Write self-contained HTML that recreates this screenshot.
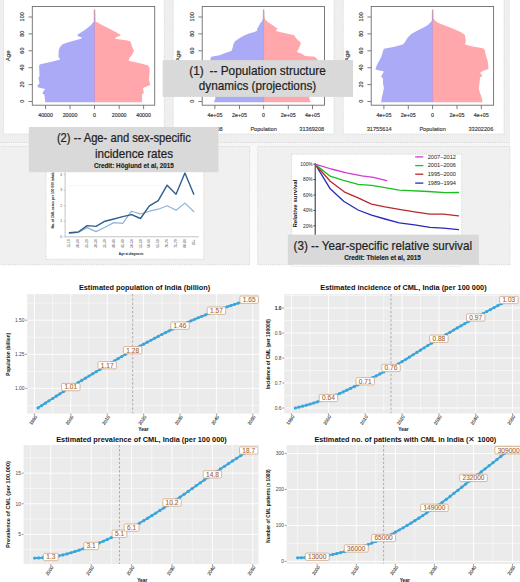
<!DOCTYPE html>
<html><head><meta charset="utf-8"><style>
html,body{margin:0;padding:0;background:#fff;}
svg{display:block;font-family:"Liberation Sans",sans-serif;}
</style></head><body>
<svg width="520" height="582" viewBox="0 0 520 582">
<rect x="0" y="0" width="520" height="582" fill="#ffffff" />
<rect x="0" y="0" width="510" height="142.6" fill="#efefef" />
<line x1="0" y1="142.6" x2="510" y2="142.6" stroke="#c4c4c4" stroke-width="0.8" stroke-dasharray="1 1.2"/>
<rect x="0" y="143" width="510" height="3.5" fill="#f6f6f6" />
<linearGradient id="gstrip" x1="0" y1="0" x2="0" y2="1"><stop offset="0" stop-color="#f8f8f8"/><stop offset="1" stop-color="#fefefe"/></linearGradient>
<rect x="249.6" y="146" width="8.1" height="119" fill="url(#gstrip)" />
<rect x="-1" y="146.5" width="250.6" height="118.3" fill="#f0f0f0" stroke="#cccccc" stroke-width="0.8" stroke-dasharray="1 1.2"/>
<rect x="257.7" y="146.5" width="252.3" height="118.3" fill="#f0f0f0" stroke="#cccccc" stroke-width="0.8" stroke-dasharray="1 1.2"/>
<rect x="3.5" y="-1" width="160.8" height="135" fill="#ffffff" stroke="#cccccc" stroke-width="0.8" stroke-dasharray="1 1.2"/>
<rect x="173.2" y="-1" width="160.8" height="135" fill="#ffffff" stroke="#cccccc" stroke-width="0.8" stroke-dasharray="1 1.2"/>
<rect x="343.2" y="-1" width="160.8" height="135" fill="#ffffff" stroke="#cccccc" stroke-width="0.8" stroke-dasharray="1 1.2"/>
<polygon points="94.5,102.3 45.1,102.2 44.8,97.4 44.2,94.6 42.3,93.6 43.2,91.8 45.1,88.9 38.5,87.4 37.2,86.1 39.5,83.2 38.5,78.5 39.5,75.7 39.1,65.3 40.4,64.3 52.7,61.5 60.3,59.6 58.4,56.8 58.8,50.1 60,47 62.7,44.3 67.3,42.5 74.6,40.6 81,38.8 81.9,37.5 77.4,36.1 77.9,34.3 81,32.4 86.5,28.8 91.1,25.1 93.8,21.5 94.3,19.5 94.5,19.5" fill="#aaaaf6" />
<polygon points="94.5,102.3 142,102.2 142,94.6 143.9,92.7 143,88 150.2,85.1 149,79.5 149.6,71.9 149.6,68.1 147.8,65.3 136.8,62.6 128.6,60.8 129.5,58 132.2,54.4 134,50.7 132.2,47 130.4,41.6 127.6,40.6 114.8,38.8 116.7,37 121.2,35.2 116.7,32.4 109.4,28.8 102,25.1 95.6,21.5 94.9,19.5 94.5,19.5" fill="#ffa7ab" />
<path d="M93.7,20.5 L93.8,9.6 L95.2,9.6 L95.5,20.5 Z" fill="#c99cb8"/>
<line x1="94.5" y1="19" x2="94.5" y2="102.3" stroke="#c08ed0" stroke-width="0.8" />
<rect x="32.3" y="6.5" width="122.4" height="98.7" fill="none" stroke="#6e6e6e" stroke-width="0.9"/>
<line x1="28.5" y1="101.5" x2="32.3" y2="101.5" stroke="#6e6e6e" stroke-width="0.9" />
<text x="22" y="101.3" font-size="5.5" fill="#333" text-anchor="middle" font-weight="normal" stroke="#333" stroke-width="0.15" transform="rotate(-90 22 101.3)" dy="2.0">0</text>
<line x1="28.5" y1="84.6" x2="32.3" y2="84.6" stroke="#6e6e6e" stroke-width="0.9" />
<text x="22" y="84.4" font-size="5.5" fill="#333" text-anchor="middle" font-weight="normal" stroke="#333" stroke-width="0.15" transform="rotate(-90 22 84.4)" dy="2.0">20</text>
<line x1="28.5" y1="67.7" x2="32.3" y2="67.7" stroke="#6e6e6e" stroke-width="0.9" />
<text x="22" y="67.5" font-size="5.5" fill="#333" text-anchor="middle" font-weight="normal" stroke="#333" stroke-width="0.15" transform="rotate(-90 22 67.5)" dy="2.0">40</text>
<line x1="28.5" y1="50.8" x2="32.3" y2="50.8" stroke="#6e6e6e" stroke-width="0.9" />
<text x="22" y="50.6" font-size="5.5" fill="#333" text-anchor="middle" font-weight="normal" stroke="#333" stroke-width="0.15" transform="rotate(-90 22 50.6)" dy="2.0">60</text>
<line x1="28.5" y1="33.9" x2="32.3" y2="33.9" stroke="#6e6e6e" stroke-width="0.9" />
<text x="22" y="33.7" font-size="5.5" fill="#333" text-anchor="middle" font-weight="normal" stroke="#333" stroke-width="0.15" transform="rotate(-90 22 33.7)" dy="2.0">80</text>
<line x1="28.5" y1="17" x2="32.3" y2="17" stroke="#6e6e6e" stroke-width="0.9" />
<text x="22" y="16.8" font-size="5.5" fill="#333" text-anchor="middle" font-weight="normal" stroke="#333" stroke-width="0.15" transform="rotate(-90 22 16.8)" dy="2.0">100</text>
<text x="8.3" y="55.8" font-size="6" fill="#333" text-anchor="middle" font-weight="normal" stroke="#333" stroke-width="0.15" transform="rotate(-90 8.3 55.8)" dy="2.1">Age</text>
<line x1="45.6" y1="105.2" x2="45.6" y2="109.2" stroke="#6e6e6e" stroke-width="0.9" />
<text x="45.6" y="117.3" font-size="5.3" fill="#333" text-anchor="middle" font-weight="normal" stroke="#333" stroke-width="0.15" >40000</text>
<line x1="70" y1="105.2" x2="70" y2="109.2" stroke="#6e6e6e" stroke-width="0.9" />
<text x="70" y="117.3" font-size="5.3" fill="#333" text-anchor="middle" font-weight="normal" stroke="#333" stroke-width="0.15" >20000</text>
<line x1="94.5" y1="105.2" x2="94.5" y2="109.2" stroke="#6e6e6e" stroke-width="0.9" />
<text x="94.5" y="117.3" font-size="5.3" fill="#333" text-anchor="middle" font-weight="normal" stroke="#333" stroke-width="0.15" >0</text>
<line x1="119.2" y1="105.2" x2="119.2" y2="109.2" stroke="#6e6e6e" stroke-width="0.9" />
<text x="119.2" y="117.3" font-size="5.3" fill="#333" text-anchor="middle" font-weight="normal" stroke="#333" stroke-width="0.15" >20000</text>
<line x1="143.6" y1="105.2" x2="143.6" y2="109.2" stroke="#6e6e6e" stroke-width="0.9" />
<text x="143.6" y="117.3" font-size="5.3" fill="#333" text-anchor="middle" font-weight="normal" stroke="#333" stroke-width="0.15" >40000</text>
<text x="40.3" y="130.6" font-size="5.6" fill="#333" text-anchor="middle" font-weight="normal" stroke="#333" stroke-width="0.12" >3120071</text>
<text x="94.5" y="130.6" font-size="5.6" fill="#333" text-anchor="middle" font-weight="normal" stroke="#333" stroke-width="0.12" >Population</text>
<text x="154.4" y="130.6" font-size="5.6" fill="#333" text-anchor="end" font-weight="normal" stroke="#333" stroke-width="0.12" >2990114</text>
<polygon points="263.6,102.3 213.9,102.2 215.4,98.4 214.5,90 213,80 211.5,70 210.5,62 210.1,60.2 211.1,56.8 219.6,55.2 225.3,53 231.3,51.1 232.5,48.2 233.5,44 235,41.3 239,38.6 243.1,36 247.1,34.3 249.8,33.3 254.5,31.9 257.2,30.6 257.2,28.6 258.6,26.5 259.9,23.8 261.9,21.2 263.3,18.5 263.6,19.5" fill="#aaaaf6" />
<polygon points="263.6,102.3 311,102.2 309.1,98.4 311,90 313,80 315.5,70 317.6,62 317.6,59.6 314.8,56.8 305,56.1 302.3,54.1 296.9,52.1 297.6,50.8 299.6,46.7 300.9,42.7 296.2,38.6 294.2,35.3 288.8,33.9 282.1,32.6 276.7,31.2 276,29.9 277.8,28.6 275.4,27.2 272.7,25.2 268.6,22.5 265.3,19.8 264.1,17.5 263.6,19.5" fill="#ffa7ab" />
<path d="M262.8,20.5 L262.9,9.6 L264.3,9.6 L264.6,20.5 Z" fill="#c99cb8"/>
<line x1="263.6" y1="19" x2="263.6" y2="102.3" stroke="#c08ed0" stroke-width="0.8" />
<rect x="202.2" y="6.5" width="122.3" height="98.7" fill="none" stroke="#6e6e6e" stroke-width="0.9"/>
<line x1="198.4" y1="101.5" x2="202.2" y2="101.5" stroke="#6e6e6e" stroke-width="0.9" />
<text x="191.9" y="101.3" font-size="5.5" fill="#333" text-anchor="middle" font-weight="normal" stroke="#333" stroke-width="0.15" transform="rotate(-90 191.9 101.3)" dy="2.0">0</text>
<line x1="198.4" y1="84.6" x2="202.2" y2="84.6" stroke="#6e6e6e" stroke-width="0.9" />
<text x="191.9" y="84.4" font-size="5.5" fill="#333" text-anchor="middle" font-weight="normal" stroke="#333" stroke-width="0.15" transform="rotate(-90 191.9 84.4)" dy="2.0">20</text>
<line x1="198.4" y1="67.7" x2="202.2" y2="67.7" stroke="#6e6e6e" stroke-width="0.9" />
<text x="191.9" y="67.5" font-size="5.5" fill="#333" text-anchor="middle" font-weight="normal" stroke="#333" stroke-width="0.15" transform="rotate(-90 191.9 67.5)" dy="2.0">40</text>
<line x1="198.4" y1="50.8" x2="202.2" y2="50.8" stroke="#6e6e6e" stroke-width="0.9" />
<text x="191.9" y="50.6" font-size="5.5" fill="#333" text-anchor="middle" font-weight="normal" stroke="#333" stroke-width="0.15" transform="rotate(-90 191.9 50.6)" dy="2.0">60</text>
<line x1="198.4" y1="33.9" x2="202.2" y2="33.9" stroke="#6e6e6e" stroke-width="0.9" />
<text x="191.9" y="33.7" font-size="5.5" fill="#333" text-anchor="middle" font-weight="normal" stroke="#333" stroke-width="0.15" transform="rotate(-90 191.9 33.7)" dy="2.0">80</text>
<line x1="198.4" y1="17" x2="202.2" y2="17" stroke="#6e6e6e" stroke-width="0.9" />
<text x="191.9" y="16.8" font-size="5.5" fill="#333" text-anchor="middle" font-weight="normal" stroke="#333" stroke-width="0.15" transform="rotate(-90 191.9 16.8)" dy="2.0">100</text>
<text x="178.2" y="55.8" font-size="6" fill="#333" text-anchor="middle" font-weight="normal" stroke="#333" stroke-width="0.15" transform="rotate(-90 178.2 55.8)" dy="2.1">Age</text>
<line x1="214.9" y1="105.2" x2="214.9" y2="109.2" stroke="#6e6e6e" stroke-width="0.9" />
<text x="214.9" y="117.3" font-size="5.3" fill="#333" text-anchor="middle" font-weight="normal" stroke="#333" stroke-width="0.15" >4e+05</text>
<line x1="239.5" y1="105.2" x2="239.5" y2="109.2" stroke="#6e6e6e" stroke-width="0.9" />
<text x="239.5" y="117.3" font-size="5.3" fill="#333" text-anchor="middle" font-weight="normal" stroke="#333" stroke-width="0.15" >2e+05</text>
<line x1="263.6" y1="105.2" x2="263.6" y2="109.2" stroke="#6e6e6e" stroke-width="0.9" />
<text x="263.6" y="117.3" font-size="5.3" fill="#333" text-anchor="middle" font-weight="normal" stroke="#333" stroke-width="0.15" >0</text>
<line x1="288.3" y1="105.2" x2="288.3" y2="109.2" stroke="#6e6e6e" stroke-width="0.9" />
<text x="288.3" y="117.3" font-size="5.3" fill="#333" text-anchor="middle" font-weight="normal" stroke="#333" stroke-width="0.15" >2e+05</text>
<line x1="312.5" y1="105.2" x2="312.5" y2="109.2" stroke="#6e6e6e" stroke-width="0.9" />
<text x="312.5" y="117.3" font-size="5.3" fill="#333" text-anchor="middle" font-weight="normal" stroke="#333" stroke-width="0.15" >4e+05</text>
<text x="210.2" y="130.6" font-size="5.6" fill="#333" text-anchor="middle" font-weight="normal" stroke="#333" stroke-width="0.12" >30440608</text>
<text x="263.6" y="130.6" font-size="5.6" fill="#333" text-anchor="middle" font-weight="normal" stroke="#333" stroke-width="0.12" >Population</text>
<text x="324.2" y="130.6" font-size="5.6" fill="#333" text-anchor="end" font-weight="normal" stroke="#333" stroke-width="0.12" >31369208</text>
<polygon points="432.6,102.3 381.1,102.2 382,96.5 383,92.7 383.9,88 383,83.2 383,78.5 381.1,76.6 382,74.7 383.9,71.5 375.4,69.6 376.4,66.2 378.2,62.4 380.5,58.6 382,54.9 383,51.1 383.9,48.8 393.4,46.9 402.8,44.5 404.7,42.6 407.6,37.8 411.3,34.1 418,30.3 422.7,28 428,25 431.5,21.2 432.2,19.5 432.6,19.5" fill="#aaaaf6" />
<polygon points="432.6,102.3 482.5,102.2 481.9,98.4 480,92.7 478.7,88.9 479.5,83.2 480,77.6 482.5,75.7 480,72.8 482.9,70.9 488.5,69.1 488.2,65.3 487.6,60.5 485.7,54.9 484.8,50.1 482.9,48.2 471.5,46.3 464.9,44.5 465.8,41.6 464.9,35 461.1,32.2 455,29.6 449.6,27.3 443.5,25 438,22.7 435,20.4 433.6,18.8 432.6,19.5" fill="#ffa7ab" />
<path d="M431.8,20.5 L431.9,9.6 L433.3,9.6 L433.6,20.5 Z" fill="#c99cb8"/>
<line x1="432.6" y1="19" x2="432.6" y2="102.3" stroke="#c08ed0" stroke-width="0.8" />
<rect x="371.2" y="6.5" width="122.4" height="98.7" fill="none" stroke="#6e6e6e" stroke-width="0.9"/>
<line x1="367.4" y1="101.5" x2="371.2" y2="101.5" stroke="#6e6e6e" stroke-width="0.9" />
<text x="360.9" y="101.3" font-size="5.5" fill="#333" text-anchor="middle" font-weight="normal" stroke="#333" stroke-width="0.15" transform="rotate(-90 360.9 101.3)" dy="2.0">0</text>
<line x1="367.4" y1="84.6" x2="371.2" y2="84.6" stroke="#6e6e6e" stroke-width="0.9" />
<text x="360.9" y="84.4" font-size="5.5" fill="#333" text-anchor="middle" font-weight="normal" stroke="#333" stroke-width="0.15" transform="rotate(-90 360.9 84.4)" dy="2.0">20</text>
<line x1="367.4" y1="67.7" x2="371.2" y2="67.7" stroke="#6e6e6e" stroke-width="0.9" />
<text x="360.9" y="67.5" font-size="5.5" fill="#333" text-anchor="middle" font-weight="normal" stroke="#333" stroke-width="0.15" transform="rotate(-90 360.9 67.5)" dy="2.0">40</text>
<line x1="367.4" y1="50.8" x2="371.2" y2="50.8" stroke="#6e6e6e" stroke-width="0.9" />
<text x="360.9" y="50.6" font-size="5.5" fill="#333" text-anchor="middle" font-weight="normal" stroke="#333" stroke-width="0.15" transform="rotate(-90 360.9 50.6)" dy="2.0">60</text>
<line x1="367.4" y1="33.9" x2="371.2" y2="33.9" stroke="#6e6e6e" stroke-width="0.9" />
<text x="360.9" y="33.7" font-size="5.5" fill="#333" text-anchor="middle" font-weight="normal" stroke="#333" stroke-width="0.15" transform="rotate(-90 360.9 33.7)" dy="2.0">80</text>
<line x1="367.4" y1="17" x2="371.2" y2="17" stroke="#6e6e6e" stroke-width="0.9" />
<text x="360.9" y="16.8" font-size="5.5" fill="#333" text-anchor="middle" font-weight="normal" stroke="#333" stroke-width="0.15" transform="rotate(-90 360.9 16.8)" dy="2.0">100</text>
<text x="347.2" y="55.8" font-size="6" fill="#333" text-anchor="middle" font-weight="normal" stroke="#333" stroke-width="0.15" transform="rotate(-90 347.2 55.8)" dy="2.1">Age</text>
<line x1="383.9" y1="105.2" x2="383.9" y2="109.2" stroke="#6e6e6e" stroke-width="0.9" />
<text x="383.9" y="117.3" font-size="5.3" fill="#333" text-anchor="middle" font-weight="normal" stroke="#333" stroke-width="0.15" >4e+05</text>
<line x1="408.3" y1="105.2" x2="408.3" y2="109.2" stroke="#6e6e6e" stroke-width="0.9" />
<text x="408.3" y="117.3" font-size="5.3" fill="#333" text-anchor="middle" font-weight="normal" stroke="#333" stroke-width="0.15" >2e+05</text>
<line x1="432.6" y1="105.2" x2="432.6" y2="109.2" stroke="#6e6e6e" stroke-width="0.9" />
<text x="432.6" y="117.3" font-size="5.3" fill="#333" text-anchor="middle" font-weight="normal" stroke="#333" stroke-width="0.15" >0</text>
<line x1="457" y1="105.2" x2="457" y2="109.2" stroke="#6e6e6e" stroke-width="0.9" />
<text x="457" y="117.3" font-size="5.3" fill="#333" text-anchor="middle" font-weight="normal" stroke="#333" stroke-width="0.15" >2e+05</text>
<line x1="481.3" y1="105.2" x2="481.3" y2="109.2" stroke="#6e6e6e" stroke-width="0.9" />
<text x="481.3" y="117.3" font-size="5.3" fill="#333" text-anchor="middle" font-weight="normal" stroke="#333" stroke-width="0.15" >4e+05</text>
<text x="379.2" y="130.6" font-size="5.6" fill="#333" text-anchor="middle" font-weight="normal" stroke="#333" stroke-width="0.12" >31755614</text>
<text x="432.6" y="130.6" font-size="5.6" fill="#333" text-anchor="middle" font-weight="normal" stroke="#333" stroke-width="0.12" >Population</text>
<text x="493.3" y="130.6" font-size="5.6" fill="#333" text-anchor="end" font-weight="normal" stroke="#333" stroke-width="0.12" >33202206</text>
<rect x="46.1" y="150" width="157.7" height="109.2" fill="#ffffff" stroke="#cccccc" stroke-width="0.8" stroke-dasharray="1 1.2"/>
<line x1="65.1" y1="172" x2="65.1" y2="236.8" stroke="#9a9a9a" stroke-width="0.6" />
<line x1="65.1" y1="236.8" x2="198.7" y2="236.8" stroke="#9a9a9a" stroke-width="0.6" />
<line x1="65.1" y1="185.49" x2="198.7" y2="185.49" stroke="#f0f0f0" stroke-width="0.5" />
<line x1="63.6" y1="236.8" x2="65.1" y2="236.8" stroke="#9a9a9a" stroke-width="0.5" />
<text x="62.1" y="238" font-size="3.4" fill="#555" text-anchor="end" font-weight="normal" >0</text>
<line x1="63.6" y1="221.25" x2="65.1" y2="221.25" stroke="#9a9a9a" stroke-width="0.5" />
<text x="62.1" y="222.45" font-size="3.4" fill="#555" text-anchor="end" font-weight="normal" >1</text>
<line x1="63.6" y1="205.7" x2="65.1" y2="205.7" stroke="#9a9a9a" stroke-width="0.5" />
<text x="62.1" y="206.9" font-size="3.4" fill="#555" text-anchor="end" font-weight="normal" >2</text>
<line x1="63.6" y1="190.15" x2="65.1" y2="190.15" stroke="#9a9a9a" stroke-width="0.5" />
<text x="62.1" y="191.35" font-size="3.4" fill="#555" text-anchor="end" font-weight="normal" >3</text>
<line x1="63.6" y1="174.6" x2="65.1" y2="174.6" stroke="#9a9a9a" stroke-width="0.5" />
<text x="62.1" y="175.8" font-size="3.4" fill="#555" text-anchor="end" font-weight="normal" >4</text>
<text x="70.5" y="239.3" font-size="3.3" fill="#555" text-anchor="end" font-weight="normal" transform="rotate(-90 70.5 239.3)">15-19</text>
<text x="79.39" y="239.3" font-size="3.3" fill="#555" text-anchor="end" font-weight="normal" transform="rotate(-90 79.39 239.3)">20-24</text>
<text x="88.27" y="239.3" font-size="3.3" fill="#555" text-anchor="end" font-weight="normal" transform="rotate(-90 88.27 239.3)">25-29</text>
<text x="97.16" y="239.3" font-size="3.3" fill="#555" text-anchor="end" font-weight="normal" transform="rotate(-90 97.16 239.3)">30-34</text>
<text x="106.04" y="239.3" font-size="3.3" fill="#555" text-anchor="end" font-weight="normal" transform="rotate(-90 106.04 239.3)">35-39</text>
<text x="114.92" y="239.3" font-size="3.3" fill="#555" text-anchor="end" font-weight="normal" transform="rotate(-90 114.92 239.3)">40-44</text>
<text x="123.81" y="239.3" font-size="3.3" fill="#555" text-anchor="end" font-weight="normal" transform="rotate(-90 123.81 239.3)">45-49</text>
<text x="132.69" y="239.3" font-size="3.3" fill="#555" text-anchor="end" font-weight="normal" transform="rotate(-90 132.69 239.3)">50-54</text>
<text x="141.58" y="239.3" font-size="3.3" fill="#555" text-anchor="end" font-weight="normal" transform="rotate(-90 141.58 239.3)">55-59</text>
<text x="150.47" y="239.3" font-size="3.3" fill="#555" text-anchor="end" font-weight="normal" transform="rotate(-90 150.47 239.3)">60-64</text>
<text x="159.35" y="239.3" font-size="3.3" fill="#555" text-anchor="end" font-weight="normal" transform="rotate(-90 159.35 239.3)">65-69</text>
<text x="168.23" y="239.3" font-size="3.3" fill="#555" text-anchor="end" font-weight="normal" transform="rotate(-90 168.23 239.3)">70-74</text>
<text x="177.12" y="239.3" font-size="3.3" fill="#555" text-anchor="end" font-weight="normal" transform="rotate(-90 177.12 239.3)">75-79</text>
<text x="186" y="239.3" font-size="3.3" fill="#555" text-anchor="end" font-weight="normal" transform="rotate(-90 186 239.3)">80-84</text>
<text x="194.89" y="239.3" font-size="3.3" fill="#555" text-anchor="end" font-weight="normal" transform="rotate(-90 194.89 239.3)">85+</text>
<text x="118.8" y="255" font-size="3.6" fill="#222" text-anchor="start" font-weight="bold" textLength="24.7" lengthAdjust="spacingAndGlyphs" >Age at diagnosis</text>
<text x="54.2" y="200" font-size="3.3" fill="#222" text-anchor="middle" font-weight="bold" transform="rotate(-90 54.2 200)">No. of CML cases per 100 000 inhab.</text>
<polyline points="69.4,233.3 78.29,232.5 87.17,227.6 96.06,231.6 104.94,227.3 113.83,222.6 122.71,223.3 131.59,211.2 140.48,214 149.37,211.2 158.25,209.2 167.13,205.8 176.02,210.2 184.91,203.1 193.79,211.5" fill="none" stroke="#8db3d8" stroke-width="1.2" stroke-linejoin="round" stroke-linecap="round" />
<polyline points="69.4,232.8 78.29,232 87.17,225.6 96.06,226.4 104.94,221.2 113.83,219 122.71,216.6 131.59,214.6 140.48,218.5 149.37,205.8 158.25,200.6 167.13,185.2 176.02,194.2 184.91,173.1 193.79,194.2" fill="none" stroke="#2e5f8e" stroke-width="1.4" stroke-linejoin="round" stroke-linecap="round" />
<rect x="291.7" y="154.2" width="170" height="112" fill="#ffffff" stroke="#cccccc" stroke-width="0.8" stroke-dasharray="1 1.2"/>
<line x1="315.2" y1="163.5" x2="315.2" y2="240" stroke="#111" stroke-width="0.9" />
<line x1="313.4" y1="225.8" x2="315.2" y2="225.8" stroke="#111" stroke-width="0.7" />
<text x="312.6" y="227.5" font-size="4.8" fill="#222" text-anchor="end" font-weight="normal" >20%</text>
<line x1="313.4" y1="210.4" x2="315.2" y2="210.4" stroke="#111" stroke-width="0.7" />
<text x="312.6" y="212.1" font-size="4.8" fill="#222" text-anchor="end" font-weight="normal" >40%</text>
<line x1="313.4" y1="195" x2="315.2" y2="195" stroke="#111" stroke-width="0.7" />
<text x="312.6" y="196.7" font-size="4.8" fill="#222" text-anchor="end" font-weight="normal" >60%</text>
<line x1="313.4" y1="179.6" x2="315.2" y2="179.6" stroke="#111" stroke-width="0.7" />
<text x="312.6" y="181.3" font-size="4.8" fill="#222" text-anchor="end" font-weight="normal" >80%</text>
<line x1="313.4" y1="164.2" x2="315.2" y2="164.2" stroke="#111" stroke-width="0.7" />
<text x="312.6" y="165.9" font-size="4.8" fill="#222" text-anchor="end" font-weight="normal" >100%</text>
<text x="297" y="203.6" font-size="6" fill="#111" text-anchor="middle" font-weight="bold" textLength="48" lengthAdjust="spacingAndGlyphs" transform="rotate(-90 297.0 203.6)">Relative survival</text>
<polyline points="315.2,164.2 330.2,188.8 343.7,201.2 358.1,210 371.5,215.2 385,219 399.2,222.9 414.6,224.8 430,227.3 443.5,228.1 458.5,229.6" fill="none" stroke="#2a2ab8" stroke-width="1.3" stroke-linejoin="round" stroke-linecap="round" />
<polyline points="315.2,164.2 330.2,181.2 344.6,192.1 358.1,197.9 371.5,204.2 385,206.9 399.2,209.4 414.6,211.9 430,214.2 443.5,214.2 458.5,215.8" fill="none" stroke="#b8292e" stroke-width="1.3" stroke-linejoin="round" stroke-linecap="round" />
<polyline points="315.2,164.2 330.2,176.2 342.7,180.2 358.1,184.4 371.5,185.4 385,187.7 399.2,190.2 428,191.5 445.4,192.7 458.5,192.5" fill="none" stroke="#19c01f" stroke-width="1.3" stroke-linejoin="round" stroke-linecap="round" />
<polyline points="315.2,164.2 331.2,169 346.5,172.9 361.9,175.8 373.5,177.3 386.7,180.6" fill="none" stroke="#d23ad2" stroke-width="1.3" stroke-linejoin="round" stroke-linecap="round" />
<line x1="415.2" y1="156.9" x2="423.3" y2="156.9" stroke="#d23ad2" stroke-width="1.3" />
<text x="427.7" y="158.7" font-size="5.2" fill="#222" text-anchor="start" font-weight="normal" textLength="28.3" lengthAdjust="spacingAndGlyphs" >2007–2012</text>
<line x1="415.2" y1="165.6" x2="423.3" y2="165.6" stroke="#19c01f" stroke-width="1.3" />
<text x="427.7" y="167.4" font-size="5.2" fill="#222" text-anchor="start" font-weight="normal" textLength="28.3" lengthAdjust="spacingAndGlyphs" >2001–2006</text>
<line x1="415.2" y1="174.2" x2="423.3" y2="174.2" stroke="#b8292e" stroke-width="1.3" />
<text x="427.7" y="176" font-size="5.2" fill="#222" text-anchor="start" font-weight="normal" textLength="28.3" lengthAdjust="spacingAndGlyphs" >1995–2000</text>
<line x1="415.2" y1="183.1" x2="423.3" y2="183.1" stroke="#2a2ab8" stroke-width="1.3" />
<text x="427.7" y="184.9" font-size="5.2" fill="#222" text-anchor="start" font-weight="normal" textLength="28.3" lengthAdjust="spacingAndGlyphs" >1989–1994</text>
<rect x="162.7" y="60.1" width="190.3" height="36.8" fill="#d9d9d9" />
<text x="189.3" y="75.1" font-size="12.2" fill="#1e1e1e" text-anchor="start" font-weight="normal" textLength="136.4" lengthAdjust="spacingAndGlyphs" stroke="#1e1e1e" stroke-width="0.22" >(1)&#8194;-- Population structure</text>
<text x="198.8" y="90.1" font-size="12.2" fill="#1e1e1e" text-anchor="start" font-weight="normal" textLength="117.4" lengthAdjust="spacingAndGlyphs" stroke="#1e1e1e" stroke-width="0.22" >dynamics (projections)</text>
<rect x="28.9" y="127" width="189.6" height="45.2" fill="#d9d9d9" />
<text x="56.9" y="142.3" font-size="12.2" fill="#1e1e1e" text-anchor="start" font-weight="normal" textLength="133.9" lengthAdjust="spacingAndGlyphs" stroke="#1e1e1e" stroke-width="0.22" >(2) -- Age- and sex-specific</text>
<text x="94.9" y="157.8" font-size="12.2" fill="#1e1e1e" text-anchor="start" font-weight="normal" textLength="78.2" lengthAdjust="spacingAndGlyphs" stroke="#1e1e1e" stroke-width="0.22" >incidence rates</text>
<text x="93.9" y="168" font-size="6.9" fill="#1e1e1e" text-anchor="start" font-weight="bold" textLength="79.9" lengthAdjust="spacingAndGlyphs" stroke="#1e1e1e" stroke-width="0.15" >Credit: Höglund et al, 2015</text>
<rect x="287.8" y="234.6" width="191" height="30.2" fill="#d9d9d9" />
<text x="293.5" y="250.4" font-size="13.4" fill="#1e1e1e" text-anchor="start" font-weight="normal" textLength="178.5" lengthAdjust="spacingAndGlyphs" stroke="#1e1e1e" stroke-width="0.22" >(3) -- Year-specific relative survival</text>
<text x="344.2" y="259.5" font-size="6.9" fill="#1e1e1e" text-anchor="start" font-weight="bold" textLength="76.6" lengthAdjust="spacingAndGlyphs" stroke="#1e1e1e" stroke-width="0.15" >Credit: Thielen et al, 2015</text>
<clipPath id="cA"><rect x="27.2" y="294.1" width="232" height="119.5"/></clipPath>
<rect x="27.2" y="294.1" width="232" height="119.5" fill="#ebebeb" />
<g clip-path="url(#cA)">
<line x1="52.6" y1="294.1" x2="52.6" y2="413.6" stroke="#fbfbfb" stroke-width="0.6" />
<line x1="89" y1="294.1" x2="89" y2="413.6" stroke="#fbfbfb" stroke-width="0.6" />
<line x1="125.4" y1="294.1" x2="125.4" y2="413.6" stroke="#fbfbfb" stroke-width="0.6" />
<line x1="161.8" y1="294.1" x2="161.8" y2="413.6" stroke="#fbfbfb" stroke-width="0.6" />
<line x1="198.2" y1="294.1" x2="198.2" y2="413.6" stroke="#fbfbfb" stroke-width="0.6" />
<line x1="234.6" y1="294.1" x2="234.6" y2="413.6" stroke="#fbfbfb" stroke-width="0.6" />
<line x1="27.2" y1="405.45" x2="259.2" y2="405.45" stroke="#fbfbfb" stroke-width="0.6" />
<line x1="27.2" y1="371.35" x2="259.2" y2="371.35" stroke="#fbfbfb" stroke-width="0.6" />
<line x1="27.2" y1="337.25" x2="259.2" y2="337.25" stroke="#fbfbfb" stroke-width="0.6" />
<line x1="27.2" y1="303.15" x2="259.2" y2="303.15" stroke="#fbfbfb" stroke-width="0.6" />
<line x1="34.4" y1="294.1" x2="34.4" y2="413.6" stroke="#ffffff" stroke-width="0.9" />
<line x1="70.8" y1="294.1" x2="70.8" y2="413.6" stroke="#ffffff" stroke-width="0.9" />
<line x1="107.2" y1="294.1" x2="107.2" y2="413.6" stroke="#ffffff" stroke-width="0.9" />
<line x1="143.6" y1="294.1" x2="143.6" y2="413.6" stroke="#ffffff" stroke-width="0.9" />
<line x1="180" y1="294.1" x2="180" y2="413.6" stroke="#ffffff" stroke-width="0.9" />
<line x1="216.4" y1="294.1" x2="216.4" y2="413.6" stroke="#ffffff" stroke-width="0.9" />
<line x1="252.8" y1="294.1" x2="252.8" y2="413.6" stroke="#ffffff" stroke-width="0.9" />
<line x1="27.2" y1="388.4" x2="259.2" y2="388.4" stroke="#ffffff" stroke-width="0.9" />
<line x1="27.2" y1="354.3" x2="259.2" y2="354.3" stroke="#ffffff" stroke-width="0.9" />
<line x1="27.2" y1="320.2" x2="259.2" y2="320.2" stroke="#ffffff" stroke-width="0.9" />
<line x1="132.68" y1="294.1" x2="132.68" y2="413.6" stroke="#858585" stroke-width="0.65" stroke-dasharray="2.3 1.9"/>
<polyline points="38.04,407.91 41.68,405.53 45.32,403.17 48.96,400.82 52.6,398.48 56.24,396.16 59.88,393.86 63.52,391.57 67.16,389.29 70.8,387.04 74.44,384.8 78.08,382.58 81.72,380.38 85.36,378.19 89,376.01 92.64,373.85 96.28,371.69 99.92,369.53 103.56,367.37 107.2,365.21 110.84,363.04 114.48,360.86 118.12,358.67 121.76,356.5 125.4,354.36 129.04,352.26 132.68,350.21 136.32,348.19 139.96,346.18 143.6,344.19 147.24,342.21 150.88,340.25 154.52,338.31 158.16,336.4 161.8,334.52 165.44,332.67 169.08,330.85 172.72,329.08 176.36,327.34 180,325.66 183.64,324.01 187.28,322.39 190.92,320.81 194.56,319.26 198.2,317.75 201.84,316.26 205.48,314.81 209.12,313.39 212.76,312.01 216.4,310.65 220.04,309.33 223.68,308.03 227.32,306.76 230.96,305.51 234.6,304.3 238.24,303.11 241.88,301.96 245.52,300.83 249.16,299.74" fill="none" stroke="#3aa5db" stroke-width="1.9" stroke-linejoin="round" stroke-linecap="round" />
<circle cx="38.04" cy="407.91" r="1.6" fill="#3aa5db"/>
<circle cx="41.68" cy="405.53" r="1.6" fill="#3aa5db"/>
<circle cx="45.32" cy="403.17" r="1.6" fill="#3aa5db"/>
<circle cx="48.96" cy="400.82" r="1.6" fill="#3aa5db"/>
<circle cx="52.6" cy="398.48" r="1.6" fill="#3aa5db"/>
<circle cx="56.24" cy="396.16" r="1.6" fill="#3aa5db"/>
<circle cx="59.88" cy="393.86" r="1.6" fill="#3aa5db"/>
<circle cx="63.52" cy="391.57" r="1.6" fill="#3aa5db"/>
<circle cx="67.16" cy="389.29" r="1.6" fill="#3aa5db"/>
<circle cx="70.8" cy="387.04" r="1.6" fill="#3aa5db"/>
<circle cx="74.44" cy="384.8" r="1.6" fill="#3aa5db"/>
<circle cx="78.08" cy="382.58" r="1.6" fill="#3aa5db"/>
<circle cx="81.72" cy="380.38" r="1.6" fill="#3aa5db"/>
<circle cx="85.36" cy="378.19" r="1.6" fill="#3aa5db"/>
<circle cx="89" cy="376.01" r="1.6" fill="#3aa5db"/>
<circle cx="92.64" cy="373.85" r="1.6" fill="#3aa5db"/>
<circle cx="96.28" cy="371.69" r="1.6" fill="#3aa5db"/>
<circle cx="99.92" cy="369.53" r="1.6" fill="#3aa5db"/>
<circle cx="103.56" cy="367.37" r="1.6" fill="#3aa5db"/>
<circle cx="107.2" cy="365.21" r="1.6" fill="#3aa5db"/>
<circle cx="110.84" cy="363.04" r="1.6" fill="#3aa5db"/>
<circle cx="114.48" cy="360.86" r="1.6" fill="#3aa5db"/>
<circle cx="118.12" cy="358.67" r="1.6" fill="#3aa5db"/>
<circle cx="121.76" cy="356.5" r="1.6" fill="#3aa5db"/>
<circle cx="125.4" cy="354.36" r="1.6" fill="#3aa5db"/>
<circle cx="129.04" cy="352.26" r="1.6" fill="#3aa5db"/>
<circle cx="132.68" cy="350.21" r="1.6" fill="#3aa5db"/>
<circle cx="136.32" cy="348.19" r="1.6" fill="#3aa5db"/>
<circle cx="139.96" cy="346.18" r="1.6" fill="#3aa5db"/>
<circle cx="143.6" cy="344.19" r="1.6" fill="#3aa5db"/>
<circle cx="147.24" cy="342.21" r="1.6" fill="#3aa5db"/>
<circle cx="150.88" cy="340.25" r="1.6" fill="#3aa5db"/>
<circle cx="154.52" cy="338.31" r="1.6" fill="#3aa5db"/>
<circle cx="158.16" cy="336.4" r="1.6" fill="#3aa5db"/>
<circle cx="161.8" cy="334.52" r="1.6" fill="#3aa5db"/>
<circle cx="165.44" cy="332.67" r="1.6" fill="#3aa5db"/>
<circle cx="169.08" cy="330.85" r="1.6" fill="#3aa5db"/>
<circle cx="172.72" cy="329.08" r="1.6" fill="#3aa5db"/>
<circle cx="176.36" cy="327.34" r="1.6" fill="#3aa5db"/>
<circle cx="180" cy="325.66" r="1.6" fill="#3aa5db"/>
<circle cx="183.64" cy="324.01" r="1.6" fill="#3aa5db"/>
<circle cx="187.28" cy="322.39" r="1.6" fill="#3aa5db"/>
<circle cx="190.92" cy="320.81" r="1.6" fill="#3aa5db"/>
<circle cx="194.56" cy="319.26" r="1.6" fill="#3aa5db"/>
<circle cx="198.2" cy="317.75" r="1.6" fill="#3aa5db"/>
<circle cx="201.84" cy="316.26" r="1.6" fill="#3aa5db"/>
<circle cx="205.48" cy="314.81" r="1.6" fill="#3aa5db"/>
<circle cx="209.12" cy="313.39" r="1.6" fill="#3aa5db"/>
<circle cx="212.76" cy="312.01" r="1.6" fill="#3aa5db"/>
<circle cx="216.4" cy="310.65" r="1.6" fill="#3aa5db"/>
<circle cx="220.04" cy="309.33" r="1.6" fill="#3aa5db"/>
<circle cx="223.68" cy="308.03" r="1.6" fill="#3aa5db"/>
<circle cx="227.32" cy="306.76" r="1.6" fill="#3aa5db"/>
<circle cx="230.96" cy="305.51" r="1.6" fill="#3aa5db"/>
<circle cx="234.6" cy="304.3" r="1.6" fill="#3aa5db"/>
<circle cx="238.24" cy="303.11" r="1.6" fill="#3aa5db"/>
<circle cx="241.88" cy="301.96" r="1.6" fill="#3aa5db"/>
<circle cx="245.52" cy="300.83" r="1.6" fill="#3aa5db"/>
<circle cx="249.16" cy="299.74" r="1.6" fill="#3aa5db"/>
<rect x="61.59" y="383.39" width="18.42" height="7.3" rx="1.3" fill="#ffffff" stroke="#c79d78" stroke-width="0.7"/>
<text x="70.8" y="389.44" font-size="6.8" fill="#a8652e" text-anchor="middle" font-weight="normal" textLength="12.82" lengthAdjust="spacingAndGlyphs" stroke="#a8652e" stroke-width="0.1" >1.01</text>
<rect x="97.99" y="361.56" width="18.42" height="7.3" rx="1.3" fill="#ffffff" stroke="#c79d78" stroke-width="0.7"/>
<text x="107.2" y="367.61" font-size="6.8" fill="#a8652e" text-anchor="middle" font-weight="normal" textLength="12.82" lengthAdjust="spacingAndGlyphs" stroke="#a8652e" stroke-width="0.1" >1.17</text>
<rect x="123.47" y="346.56" width="18.42" height="7.3" rx="1.3" fill="#ffffff" stroke="#c79d78" stroke-width="0.7"/>
<text x="132.68" y="352.61" font-size="6.8" fill="#a8652e" text-anchor="middle" font-weight="normal" textLength="12.82" lengthAdjust="spacingAndGlyphs" stroke="#a8652e" stroke-width="0.1" >1.28</text>
<rect x="170.79" y="322.01" width="18.42" height="7.3" rx="1.3" fill="#ffffff" stroke="#c79d78" stroke-width="0.7"/>
<text x="180" y="328.06" font-size="6.8" fill="#a8652e" text-anchor="middle" font-weight="normal" textLength="12.82" lengthAdjust="spacingAndGlyphs" stroke="#a8652e" stroke-width="0.1" >1.46</text>
<rect x="207.19" y="307" width="18.42" height="7.3" rx="1.3" fill="#ffffff" stroke="#c79d78" stroke-width="0.7"/>
<text x="216.4" y="313.05" font-size="6.8" fill="#a8652e" text-anchor="middle" font-weight="normal" textLength="12.82" lengthAdjust="spacingAndGlyphs" stroke="#a8652e" stroke-width="0.1" >1.57</text>
<rect x="239.95" y="296.09" width="18.42" height="7.3" rx="1.3" fill="#ffffff" stroke="#c79d78" stroke-width="0.7"/>
<text x="249.16" y="302.14" font-size="6.8" fill="#a8652e" text-anchor="middle" font-weight="normal" textLength="12.82" lengthAdjust="spacingAndGlyphs" stroke="#a8652e" stroke-width="0.1" >1.65</text>
</g>
<line x1="25.3" y1="388.4" x2="27.2" y2="388.4" stroke="#333" stroke-width="0.5" />
<text x="24.5" y="390.15" font-size="4.9" fill="#444" text-anchor="end" font-weight="normal" >1.00</text>
<line x1="25.3" y1="354.3" x2="27.2" y2="354.3" stroke="#333" stroke-width="0.5" />
<text x="24.5" y="356.05" font-size="4.9" fill="#444" text-anchor="end" font-weight="normal" >1.25</text>
<line x1="25.3" y1="320.2" x2="27.2" y2="320.2" stroke="#333" stroke-width="0.5" />
<text x="24.5" y="321.95" font-size="4.9" fill="#444" text-anchor="end" font-weight="normal" >1.50</text>
<line x1="34.4" y1="413.6" x2="34.4" y2="415.5" stroke="#333" stroke-width="0.5" />
<text x="36" y="415.9" font-size="4.6" fill="#2a2a2a" text-anchor="end" font-weight="normal" stroke="#2a2a2a" stroke-width="0.12" transform="rotate(-56 36 415.9)" dy="1.7">1990</text>
<line x1="70.8" y1="413.6" x2="70.8" y2="415.5" stroke="#333" stroke-width="0.5" />
<text x="72.4" y="415.9" font-size="4.6" fill="#2a2a2a" text-anchor="end" font-weight="normal" stroke="#2a2a2a" stroke-width="0.12" transform="rotate(-56 72.4 415.9)" dy="1.7">2000</text>
<line x1="107.2" y1="413.6" x2="107.2" y2="415.5" stroke="#333" stroke-width="0.5" />
<text x="108.8" y="415.9" font-size="4.6" fill="#2a2a2a" text-anchor="end" font-weight="normal" stroke="#2a2a2a" stroke-width="0.12" transform="rotate(-56 108.8 415.9)" dy="1.7">2010</text>
<line x1="143.6" y1="413.6" x2="143.6" y2="415.5" stroke="#333" stroke-width="0.5" />
<text x="145.2" y="415.9" font-size="4.6" fill="#2a2a2a" text-anchor="end" font-weight="normal" stroke="#2a2a2a" stroke-width="0.12" transform="rotate(-56 145.2 415.9)" dy="1.7">2020</text>
<line x1="180" y1="413.6" x2="180" y2="415.5" stroke="#333" stroke-width="0.5" />
<text x="181.6" y="415.9" font-size="4.6" fill="#2a2a2a" text-anchor="end" font-weight="normal" stroke="#2a2a2a" stroke-width="0.12" transform="rotate(-56 181.6 415.9)" dy="1.7">2030</text>
<line x1="216.4" y1="413.6" x2="216.4" y2="415.5" stroke="#333" stroke-width="0.5" />
<text x="218" y="415.9" font-size="4.6" fill="#2a2a2a" text-anchor="end" font-weight="normal" stroke="#2a2a2a" stroke-width="0.12" transform="rotate(-56 218 415.9)" dy="1.7">2040</text>
<line x1="252.8" y1="413.6" x2="252.8" y2="415.5" stroke="#333" stroke-width="0.5" />
<text x="254.4" y="415.9" font-size="4.6" fill="#2a2a2a" text-anchor="end" font-weight="normal" stroke="#2a2a2a" stroke-width="0.12" transform="rotate(-56 254.4 415.9)" dy="1.7">2050</text>
<text x="78.9" y="290.1" font-size="7.3" fill="#111" text-anchor="start" font-weight="bold" textLength="131.3" lengthAdjust="spacingAndGlyphs" >Estimated population of India (billion)</text>
<text x="10.2" y="354.3" font-size="4.9" fill="#111" text-anchor="middle" font-weight="bold" textLength="42.8" lengthAdjust="spacingAndGlyphs" transform="rotate(-90 10.2 354.3)">Population (billion)</text>
<text x="143.5" y="431.3" font-size="4.9" fill="#111" text-anchor="middle" font-weight="bold" >Year</text>
<clipPath id="cB"><rect x="284.2" y="294.1" width="237.8" height="119.3"/></clipPath>
<rect x="284.2" y="294.1" width="237.8" height="119.3" fill="#ebebeb" />
<g clip-path="url(#cB)">
<line x1="310.01" y1="294.1" x2="310.01" y2="413.4" stroke="#fbfbfb" stroke-width="0.6" />
<line x1="346.83" y1="294.1" x2="346.83" y2="413.4" stroke="#fbfbfb" stroke-width="0.6" />
<line x1="383.65" y1="294.1" x2="383.65" y2="413.4" stroke="#fbfbfb" stroke-width="0.6" />
<line x1="420.47" y1="294.1" x2="420.47" y2="413.4" stroke="#fbfbfb" stroke-width="0.6" />
<line x1="457.29" y1="294.1" x2="457.29" y2="413.4" stroke="#fbfbfb" stroke-width="0.6" />
<line x1="494.11" y1="294.1" x2="494.11" y2="413.4" stroke="#fbfbfb" stroke-width="0.6" />
<line x1="284.2" y1="395.5" x2="522" y2="395.5" stroke="#fbfbfb" stroke-width="0.6" />
<line x1="284.2" y1="370.5" x2="522" y2="370.5" stroke="#fbfbfb" stroke-width="0.6" />
<line x1="284.2" y1="345.5" x2="522" y2="345.5" stroke="#fbfbfb" stroke-width="0.6" />
<line x1="284.2" y1="320.5" x2="522" y2="320.5" stroke="#fbfbfb" stroke-width="0.6" />
<line x1="284.2" y1="295.5" x2="522" y2="295.5" stroke="#fbfbfb" stroke-width="0.6" />
<line x1="291.6" y1="294.1" x2="291.6" y2="413.4" stroke="#ffffff" stroke-width="0.9" />
<line x1="328.42" y1="294.1" x2="328.42" y2="413.4" stroke="#ffffff" stroke-width="0.9" />
<line x1="365.24" y1="294.1" x2="365.24" y2="413.4" stroke="#ffffff" stroke-width="0.9" />
<line x1="402.06" y1="294.1" x2="402.06" y2="413.4" stroke="#ffffff" stroke-width="0.9" />
<line x1="438.88" y1="294.1" x2="438.88" y2="413.4" stroke="#ffffff" stroke-width="0.9" />
<line x1="475.7" y1="294.1" x2="475.7" y2="413.4" stroke="#ffffff" stroke-width="0.9" />
<line x1="512.52" y1="294.1" x2="512.52" y2="413.4" stroke="#ffffff" stroke-width="0.9" />
<line x1="284.2" y1="408" x2="522" y2="408" stroke="#ffffff" stroke-width="0.9" />
<line x1="284.2" y1="383" x2="522" y2="383" stroke="#ffffff" stroke-width="0.9" />
<line x1="284.2" y1="358" x2="522" y2="358" stroke="#ffffff" stroke-width="0.9" />
<line x1="284.2" y1="333" x2="522" y2="333" stroke="#ffffff" stroke-width="0.9" />
<line x1="284.2" y1="308" x2="522" y2="308" stroke="#ffffff" stroke-width="0.9" />
<line x1="391.01" y1="294.1" x2="391.01" y2="413.4" stroke="#858585" stroke-width="0.65" stroke-dasharray="2.3 1.9"/>
<polyline points="295.28,408 298.96,407.12 302.65,406.18 306.33,405.17 310.01,404.1 313.69,402.98 317.37,401.8 321.06,400.58 324.74,399.31 328.42,398 332.1,396.61 335.78,395.12 339.47,393.55 343.15,391.9 346.83,390.19 350.51,388.44 354.19,386.65 357.88,384.85 361.56,383.04 365.24,381.25 368.92,379.46 372.6,377.64 376.29,375.79 379.97,373.9 383.65,371.98 387.33,370.01 391.01,368 394.7,365.93 398.38,363.79 402.06,361.59 405.74,359.35 409.42,357.07 413.11,354.77 416.79,352.45 420.47,350.12 424.15,347.8 427.83,345.49 431.52,343.21 435.2,340.96 438.88,338.75 442.56,336.57 446.24,334.4 449.93,332.23 453.61,330.07 457.29,327.93 460.97,325.81 464.65,323.7 468.34,321.61 472.02,319.54 475.7,317.5 479.38,315.48 483.06,313.48 486.75,311.5 490.43,309.53 494.11,307.59 497.79,305.66 501.47,303.76 505.16,301.87 508.84,300" fill="none" stroke="#3aa5db" stroke-width="1.9" stroke-linejoin="round" stroke-linecap="round" />
<circle cx="295.28" cy="408" r="1.6" fill="#3aa5db"/>
<circle cx="298.96" cy="407.12" r="1.6" fill="#3aa5db"/>
<circle cx="302.65" cy="406.18" r="1.6" fill="#3aa5db"/>
<circle cx="306.33" cy="405.17" r="1.6" fill="#3aa5db"/>
<circle cx="310.01" cy="404.1" r="1.6" fill="#3aa5db"/>
<circle cx="313.69" cy="402.98" r="1.6" fill="#3aa5db"/>
<circle cx="317.37" cy="401.8" r="1.6" fill="#3aa5db"/>
<circle cx="321.06" cy="400.58" r="1.6" fill="#3aa5db"/>
<circle cx="324.74" cy="399.31" r="1.6" fill="#3aa5db"/>
<circle cx="328.42" cy="398" r="1.6" fill="#3aa5db"/>
<circle cx="332.1" cy="396.61" r="1.6" fill="#3aa5db"/>
<circle cx="335.78" cy="395.12" r="1.6" fill="#3aa5db"/>
<circle cx="339.47" cy="393.55" r="1.6" fill="#3aa5db"/>
<circle cx="343.15" cy="391.9" r="1.6" fill="#3aa5db"/>
<circle cx="346.83" cy="390.19" r="1.6" fill="#3aa5db"/>
<circle cx="350.51" cy="388.44" r="1.6" fill="#3aa5db"/>
<circle cx="354.19" cy="386.65" r="1.6" fill="#3aa5db"/>
<circle cx="357.88" cy="384.85" r="1.6" fill="#3aa5db"/>
<circle cx="361.56" cy="383.04" r="1.6" fill="#3aa5db"/>
<circle cx="365.24" cy="381.25" r="1.6" fill="#3aa5db"/>
<circle cx="368.92" cy="379.46" r="1.6" fill="#3aa5db"/>
<circle cx="372.6" cy="377.64" r="1.6" fill="#3aa5db"/>
<circle cx="376.29" cy="375.79" r="1.6" fill="#3aa5db"/>
<circle cx="379.97" cy="373.9" r="1.6" fill="#3aa5db"/>
<circle cx="383.65" cy="371.98" r="1.6" fill="#3aa5db"/>
<circle cx="387.33" cy="370.01" r="1.6" fill="#3aa5db"/>
<circle cx="391.01" cy="368" r="1.6" fill="#3aa5db"/>
<circle cx="394.7" cy="365.93" r="1.6" fill="#3aa5db"/>
<circle cx="398.38" cy="363.79" r="1.6" fill="#3aa5db"/>
<circle cx="402.06" cy="361.59" r="1.6" fill="#3aa5db"/>
<circle cx="405.74" cy="359.35" r="1.6" fill="#3aa5db"/>
<circle cx="409.42" cy="357.07" r="1.6" fill="#3aa5db"/>
<circle cx="413.11" cy="354.77" r="1.6" fill="#3aa5db"/>
<circle cx="416.79" cy="352.45" r="1.6" fill="#3aa5db"/>
<circle cx="420.47" cy="350.12" r="1.6" fill="#3aa5db"/>
<circle cx="424.15" cy="347.8" r="1.6" fill="#3aa5db"/>
<circle cx="427.83" cy="345.49" r="1.6" fill="#3aa5db"/>
<circle cx="431.52" cy="343.21" r="1.6" fill="#3aa5db"/>
<circle cx="435.2" cy="340.96" r="1.6" fill="#3aa5db"/>
<circle cx="438.88" cy="338.75" r="1.6" fill="#3aa5db"/>
<circle cx="442.56" cy="336.57" r="1.6" fill="#3aa5db"/>
<circle cx="446.24" cy="334.4" r="1.6" fill="#3aa5db"/>
<circle cx="449.93" cy="332.23" r="1.6" fill="#3aa5db"/>
<circle cx="453.61" cy="330.07" r="1.6" fill="#3aa5db"/>
<circle cx="457.29" cy="327.93" r="1.6" fill="#3aa5db"/>
<circle cx="460.97" cy="325.81" r="1.6" fill="#3aa5db"/>
<circle cx="464.65" cy="323.7" r="1.6" fill="#3aa5db"/>
<circle cx="468.34" cy="321.61" r="1.6" fill="#3aa5db"/>
<circle cx="472.02" cy="319.54" r="1.6" fill="#3aa5db"/>
<circle cx="475.7" cy="317.5" r="1.6" fill="#3aa5db"/>
<circle cx="479.38" cy="315.48" r="1.6" fill="#3aa5db"/>
<circle cx="483.06" cy="313.48" r="1.6" fill="#3aa5db"/>
<circle cx="486.75" cy="311.5" r="1.6" fill="#3aa5db"/>
<circle cx="490.43" cy="309.53" r="1.6" fill="#3aa5db"/>
<circle cx="494.11" cy="307.59" r="1.6" fill="#3aa5db"/>
<circle cx="497.79" cy="305.66" r="1.6" fill="#3aa5db"/>
<circle cx="501.47" cy="303.76" r="1.6" fill="#3aa5db"/>
<circle cx="505.16" cy="301.87" r="1.6" fill="#3aa5db"/>
<circle cx="508.84" cy="300" r="1.6" fill="#3aa5db"/>
<rect x="319.21" y="394.35" width="18.42" height="7.3" rx="1.3" fill="#ffffff" stroke="#c79d78" stroke-width="0.7"/>
<text x="328.42" y="400.4" font-size="6.8" fill="#a8652e" text-anchor="middle" font-weight="normal" textLength="12.82" lengthAdjust="spacingAndGlyphs" stroke="#a8652e" stroke-width="0.1" >0.64</text>
<rect x="356.03" y="377.6" width="18.42" height="7.3" rx="1.3" fill="#ffffff" stroke="#c79d78" stroke-width="0.7"/>
<text x="365.24" y="383.65" font-size="6.8" fill="#a8652e" text-anchor="middle" font-weight="normal" textLength="12.82" lengthAdjust="spacingAndGlyphs" stroke="#a8652e" stroke-width="0.1" >0.71</text>
<rect x="381.8" y="364.35" width="18.42" height="7.3" rx="1.3" fill="#ffffff" stroke="#c79d78" stroke-width="0.7"/>
<text x="391.01" y="370.4" font-size="6.8" fill="#a8652e" text-anchor="middle" font-weight="normal" textLength="12.82" lengthAdjust="spacingAndGlyphs" stroke="#a8652e" stroke-width="0.1" >0.76</text>
<rect x="429.67" y="335.1" width="18.42" height="7.3" rx="1.3" fill="#ffffff" stroke="#c79d78" stroke-width="0.7"/>
<text x="438.88" y="341.15" font-size="6.8" fill="#a8652e" text-anchor="middle" font-weight="normal" textLength="12.82" lengthAdjust="spacingAndGlyphs" stroke="#a8652e" stroke-width="0.1" >0.88</text>
<rect x="466.49" y="313.85" width="18.42" height="7.3" rx="1.3" fill="#ffffff" stroke="#c79d78" stroke-width="0.7"/>
<text x="475.7" y="319.9" font-size="6.8" fill="#a8652e" text-anchor="middle" font-weight="normal" textLength="12.82" lengthAdjust="spacingAndGlyphs" stroke="#a8652e" stroke-width="0.1" >0.97</text>
<rect x="499.63" y="296.35" width="18.42" height="7.3" rx="1.3" fill="#ffffff" stroke="#c79d78" stroke-width="0.7"/>
<text x="508.84" y="302.4" font-size="6.8" fill="#a8652e" text-anchor="middle" font-weight="normal" textLength="12.82" lengthAdjust="spacingAndGlyphs" stroke="#a8652e" stroke-width="0.1" >1.03</text>
</g>
<line x1="282.3" y1="408" x2="284.2" y2="408" stroke="#333" stroke-width="0.5" />
<text x="281.5" y="409.75" font-size="4.9" fill="#444" text-anchor="end" font-weight="normal" >0.6</text>
<line x1="282.3" y1="383" x2="284.2" y2="383" stroke="#333" stroke-width="0.5" />
<text x="281.5" y="384.75" font-size="4.9" fill="#444" text-anchor="end" font-weight="normal" >0.7</text>
<line x1="282.3" y1="358" x2="284.2" y2="358" stroke="#333" stroke-width="0.5" />
<text x="281.5" y="359.75" font-size="4.9" fill="#444" text-anchor="end" font-weight="normal" >0.8</text>
<line x1="282.3" y1="333" x2="284.2" y2="333" stroke="#333" stroke-width="0.5" />
<text x="281.5" y="334.75" font-size="4.9" fill="#444" text-anchor="end" font-weight="normal" >0.9</text>
<line x1="282.3" y1="308" x2="284.2" y2="308" stroke="#333" stroke-width="0.5" />
<text x="281.5" y="309.75" font-size="4.9" fill="#111" text-anchor="end" font-weight="bold" >1.0</text>
<line x1="291.6" y1="413.4" x2="291.6" y2="415.3" stroke="#333" stroke-width="0.5" />
<text x="293.2" y="415.7" font-size="4.6" fill="#2a2a2a" text-anchor="end" font-weight="normal" stroke="#2a2a2a" stroke-width="0.12" transform="rotate(-56 293.2 415.7)" dy="1.7">1990</text>
<line x1="328.42" y1="413.4" x2="328.42" y2="415.3" stroke="#333" stroke-width="0.5" />
<text x="330.02" y="415.7" font-size="4.6" fill="#2a2a2a" text-anchor="end" font-weight="normal" stroke="#2a2a2a" stroke-width="0.12" transform="rotate(-56 330.02 415.7)" dy="1.7">2000</text>
<line x1="365.24" y1="413.4" x2="365.24" y2="415.3" stroke="#333" stroke-width="0.5" />
<text x="366.84" y="415.7" font-size="4.6" fill="#2a2a2a" text-anchor="end" font-weight="normal" stroke="#2a2a2a" stroke-width="0.12" transform="rotate(-56 366.84 415.7)" dy="1.7">2010</text>
<line x1="402.06" y1="413.4" x2="402.06" y2="415.3" stroke="#333" stroke-width="0.5" />
<text x="403.66" y="415.7" font-size="4.6" fill="#2a2a2a" text-anchor="end" font-weight="normal" stroke="#2a2a2a" stroke-width="0.12" transform="rotate(-56 403.66 415.7)" dy="1.7">2020</text>
<line x1="438.88" y1="413.4" x2="438.88" y2="415.3" stroke="#333" stroke-width="0.5" />
<text x="440.48" y="415.7" font-size="4.6" fill="#2a2a2a" text-anchor="end" font-weight="normal" stroke="#2a2a2a" stroke-width="0.12" transform="rotate(-56 440.48 415.7)" dy="1.7">2030</text>
<line x1="475.7" y1="413.4" x2="475.7" y2="415.3" stroke="#333" stroke-width="0.5" />
<text x="477.3" y="415.7" font-size="4.6" fill="#2a2a2a" text-anchor="end" font-weight="normal" stroke="#2a2a2a" stroke-width="0.12" transform="rotate(-56 477.3 415.7)" dy="1.7">2040</text>
<line x1="512.52" y1="413.4" x2="512.52" y2="415.3" stroke="#333" stroke-width="0.5" />
<text x="514.12" y="415.7" font-size="4.6" fill="#2a2a2a" text-anchor="end" font-weight="normal" stroke="#2a2a2a" stroke-width="0.12" transform="rotate(-56 514.12 415.7)" dy="1.7">2050</text>
<text x="320.3" y="290.1" font-size="7.3" fill="#111" text-anchor="start" font-weight="bold" textLength="166.3" lengthAdjust="spacingAndGlyphs" >Estimated incidence of CML, India (per 100 000)</text>
<text x="269.5" y="354" font-size="4.6" fill="#111" text-anchor="middle" font-weight="bold" textLength="70" lengthAdjust="spacingAndGlyphs" transform="rotate(-90 269.5 354)">Incidence of CML (per 100000)</text>
<text x="403.5" y="431.3" font-size="4.9" fill="#111" text-anchor="middle" font-weight="bold" >Year</text>
<clipPath id="cC"><rect x="23.6" y="445" width="234.9" height="119"/></clipPath>
<rect x="23.6" y="445" width="234.9" height="119" fill="#ebebeb" />
<g clip-path="url(#cC)">
<line x1="30.6" y1="445" x2="30.6" y2="564" stroke="#fbfbfb" stroke-width="0.6" />
<line x1="71" y1="445" x2="71" y2="564" stroke="#fbfbfb" stroke-width="0.6" />
<line x1="111.4" y1="445" x2="111.4" y2="564" stroke="#fbfbfb" stroke-width="0.6" />
<line x1="151.8" y1="445" x2="151.8" y2="564" stroke="#fbfbfb" stroke-width="0.6" />
<line x1="192.2" y1="445" x2="192.2" y2="564" stroke="#fbfbfb" stroke-width="0.6" />
<line x1="232.6" y1="445" x2="232.6" y2="564" stroke="#fbfbfb" stroke-width="0.6" />
<line x1="23.6" y1="549.66" x2="258.5" y2="549.66" stroke="#fbfbfb" stroke-width="0.6" />
<line x1="23.6" y1="519.06" x2="258.5" y2="519.06" stroke="#fbfbfb" stroke-width="0.6" />
<line x1="23.6" y1="488.46" x2="258.5" y2="488.46" stroke="#fbfbfb" stroke-width="0.6" />
<line x1="23.6" y1="457.86" x2="258.5" y2="457.86" stroke="#fbfbfb" stroke-width="0.6" />
<line x1="50.8" y1="445" x2="50.8" y2="564" stroke="#ffffff" stroke-width="0.9" />
<line x1="91.2" y1="445" x2="91.2" y2="564" stroke="#ffffff" stroke-width="0.9" />
<line x1="131.6" y1="445" x2="131.6" y2="564" stroke="#ffffff" stroke-width="0.9" />
<line x1="172" y1="445" x2="172" y2="564" stroke="#ffffff" stroke-width="0.9" />
<line x1="212.4" y1="445" x2="212.4" y2="564" stroke="#ffffff" stroke-width="0.9" />
<line x1="252.8" y1="445" x2="252.8" y2="564" stroke="#ffffff" stroke-width="0.9" />
<line x1="23.6" y1="534.36" x2="258.5" y2="534.36" stroke="#ffffff" stroke-width="0.9" />
<line x1="23.6" y1="503.76" x2="258.5" y2="503.76" stroke="#ffffff" stroke-width="0.9" />
<line x1="23.6" y1="473.16" x2="258.5" y2="473.16" stroke="#ffffff" stroke-width="0.9" />
<line x1="119.48" y1="445" x2="119.48" y2="564" stroke="#858585" stroke-width="0.65" stroke-dasharray="2.3 1.9"/>
<polyline points="34.64,558.04 38.68,557.94 42.72,557.71 46.76,557.38 50.8,557 54.84,556.51 58.88,555.8 62.92,554.92 66.96,553.88 71,552.73 75.04,551.47 79.08,550.14 83.12,548.76 87.16,547.37 91.2,545.99 95.24,544.54 99.28,542.94 103.32,541.23 107.36,539.42 111.4,537.56 115.44,535.66 119.48,533.75 123.52,531.81 127.56,529.77 131.6,527.63 135.64,525.37 139.68,523.04 143.72,520.63 147.76,518.16 151.8,515.64 155.84,513.07 159.88,510.46 163.92,507.83 167.96,505.19 172,502.54 176.04,499.84 180.08,497.09 184.12,494.27 188.16,491.43 192.2,488.56 196.24,485.68 200.28,482.81 204.32,479.96 208.36,477.14 212.4,474.38 216.44,471.66 220.48,468.96 224.52,466.27 228.56,463.6 232.6,460.95 236.64,458.32 240.68,455.7 244.72,453.1 248.76,450.52" fill="none" stroke="#3aa5db" stroke-width="1.9" stroke-linejoin="round" stroke-linecap="round" />
<circle cx="34.64" cy="558.04" r="1.6" fill="#3aa5db"/>
<circle cx="38.68" cy="557.94" r="1.6" fill="#3aa5db"/>
<circle cx="42.72" cy="557.71" r="1.6" fill="#3aa5db"/>
<circle cx="46.76" cy="557.38" r="1.6" fill="#3aa5db"/>
<circle cx="50.8" cy="557" r="1.6" fill="#3aa5db"/>
<circle cx="54.84" cy="556.51" r="1.6" fill="#3aa5db"/>
<circle cx="58.88" cy="555.8" r="1.6" fill="#3aa5db"/>
<circle cx="62.92" cy="554.92" r="1.6" fill="#3aa5db"/>
<circle cx="66.96" cy="553.88" r="1.6" fill="#3aa5db"/>
<circle cx="71" cy="552.73" r="1.6" fill="#3aa5db"/>
<circle cx="75.04" cy="551.47" r="1.6" fill="#3aa5db"/>
<circle cx="79.08" cy="550.14" r="1.6" fill="#3aa5db"/>
<circle cx="83.12" cy="548.76" r="1.6" fill="#3aa5db"/>
<circle cx="87.16" cy="547.37" r="1.6" fill="#3aa5db"/>
<circle cx="91.2" cy="545.99" r="1.6" fill="#3aa5db"/>
<circle cx="95.24" cy="544.54" r="1.6" fill="#3aa5db"/>
<circle cx="99.28" cy="542.94" r="1.6" fill="#3aa5db"/>
<circle cx="103.32" cy="541.23" r="1.6" fill="#3aa5db"/>
<circle cx="107.36" cy="539.42" r="1.6" fill="#3aa5db"/>
<circle cx="111.4" cy="537.56" r="1.6" fill="#3aa5db"/>
<circle cx="115.44" cy="535.66" r="1.6" fill="#3aa5db"/>
<circle cx="119.48" cy="533.75" r="1.6" fill="#3aa5db"/>
<circle cx="123.52" cy="531.81" r="1.6" fill="#3aa5db"/>
<circle cx="127.56" cy="529.77" r="1.6" fill="#3aa5db"/>
<circle cx="131.6" cy="527.63" r="1.6" fill="#3aa5db"/>
<circle cx="135.64" cy="525.37" r="1.6" fill="#3aa5db"/>
<circle cx="139.68" cy="523.04" r="1.6" fill="#3aa5db"/>
<circle cx="143.72" cy="520.63" r="1.6" fill="#3aa5db"/>
<circle cx="147.76" cy="518.16" r="1.6" fill="#3aa5db"/>
<circle cx="151.8" cy="515.64" r="1.6" fill="#3aa5db"/>
<circle cx="155.84" cy="513.07" r="1.6" fill="#3aa5db"/>
<circle cx="159.88" cy="510.46" r="1.6" fill="#3aa5db"/>
<circle cx="163.92" cy="507.83" r="1.6" fill="#3aa5db"/>
<circle cx="167.96" cy="505.19" r="1.6" fill="#3aa5db"/>
<circle cx="172" cy="502.54" r="1.6" fill="#3aa5db"/>
<circle cx="176.04" cy="499.84" r="1.6" fill="#3aa5db"/>
<circle cx="180.08" cy="497.09" r="1.6" fill="#3aa5db"/>
<circle cx="184.12" cy="494.27" r="1.6" fill="#3aa5db"/>
<circle cx="188.16" cy="491.43" r="1.6" fill="#3aa5db"/>
<circle cx="192.2" cy="488.56" r="1.6" fill="#3aa5db"/>
<circle cx="196.24" cy="485.68" r="1.6" fill="#3aa5db"/>
<circle cx="200.28" cy="482.81" r="1.6" fill="#3aa5db"/>
<circle cx="204.32" cy="479.96" r="1.6" fill="#3aa5db"/>
<circle cx="208.36" cy="477.14" r="1.6" fill="#3aa5db"/>
<circle cx="212.4" cy="474.38" r="1.6" fill="#3aa5db"/>
<circle cx="216.44" cy="471.66" r="1.6" fill="#3aa5db"/>
<circle cx="220.48" cy="468.96" r="1.6" fill="#3aa5db"/>
<circle cx="224.52" cy="466.27" r="1.6" fill="#3aa5db"/>
<circle cx="228.56" cy="463.6" r="1.6" fill="#3aa5db"/>
<circle cx="232.6" cy="460.95" r="1.6" fill="#3aa5db"/>
<circle cx="236.64" cy="458.32" r="1.6" fill="#3aa5db"/>
<circle cx="240.68" cy="455.7" r="1.6" fill="#3aa5db"/>
<circle cx="244.72" cy="453.1" r="1.6" fill="#3aa5db"/>
<circle cx="248.76" cy="450.52" r="1.6" fill="#3aa5db"/>
<rect x="43.42" y="553.35" width="14.76" height="7.3" rx="1.3" fill="#ffffff" stroke="#c79d78" stroke-width="0.7"/>
<text x="50.8" y="559.4" font-size="6.8" fill="#a8652e" text-anchor="middle" font-weight="normal" textLength="9.16" lengthAdjust="spacingAndGlyphs" stroke="#a8652e" stroke-width="0.1" >1.3</text>
<rect x="83.82" y="542.34" width="14.76" height="7.3" rx="1.3" fill="#ffffff" stroke="#c79d78" stroke-width="0.7"/>
<text x="91.2" y="548.39" font-size="6.8" fill="#a8652e" text-anchor="middle" font-weight="normal" textLength="9.16" lengthAdjust="spacingAndGlyphs" stroke="#a8652e" stroke-width="0.1" >3.1</text>
<rect x="112.1" y="530.1" width="14.76" height="7.3" rx="1.3" fill="#ffffff" stroke="#c79d78" stroke-width="0.7"/>
<text x="119.48" y="536.15" font-size="6.8" fill="#a8652e" text-anchor="middle" font-weight="normal" textLength="9.16" lengthAdjust="spacingAndGlyphs" stroke="#a8652e" stroke-width="0.1" >5.1</text>
<rect x="124.22" y="523.98" width="14.76" height="7.3" rx="1.3" fill="#ffffff" stroke="#c79d78" stroke-width="0.7"/>
<text x="131.6" y="530.03" font-size="6.8" fill="#a8652e" text-anchor="middle" font-weight="normal" textLength="9.16" lengthAdjust="spacingAndGlyphs" stroke="#a8652e" stroke-width="0.1" >6.1</text>
<rect x="162.79" y="498.89" width="18.42" height="7.3" rx="1.3" fill="#ffffff" stroke="#c79d78" stroke-width="0.7"/>
<text x="172" y="504.94" font-size="6.8" fill="#a8652e" text-anchor="middle" font-weight="normal" textLength="12.82" lengthAdjust="spacingAndGlyphs" stroke="#a8652e" stroke-width="0.1" >10.2</text>
<rect x="203.19" y="470.73" width="18.42" height="7.3" rx="1.3" fill="#ffffff" stroke="#c79d78" stroke-width="0.7"/>
<text x="212.4" y="476.78" font-size="6.8" fill="#a8652e" text-anchor="middle" font-weight="normal" textLength="12.82" lengthAdjust="spacingAndGlyphs" stroke="#a8652e" stroke-width="0.1" >14.8</text>
<rect x="239.55" y="446.87" width="18.42" height="7.3" rx="1.3" fill="#ffffff" stroke="#c79d78" stroke-width="0.7"/>
<text x="248.76" y="452.92" font-size="6.8" fill="#a8652e" text-anchor="middle" font-weight="normal" textLength="12.82" lengthAdjust="spacingAndGlyphs" stroke="#a8652e" stroke-width="0.1" >18.7</text>
</g>
<line x1="21.7" y1="534.36" x2="23.6" y2="534.36" stroke="#333" stroke-width="0.5" />
<text x="20.9" y="536.11" font-size="4.9" fill="#444" text-anchor="end" font-weight="normal" >5</text>
<line x1="21.7" y1="503.76" x2="23.6" y2="503.76" stroke="#333" stroke-width="0.5" />
<text x="20.9" y="505.51" font-size="4.9" fill="#444" text-anchor="end" font-weight="normal" >10</text>
<line x1="21.7" y1="473.16" x2="23.6" y2="473.16" stroke="#333" stroke-width="0.5" />
<text x="20.9" y="474.91" font-size="4.9" fill="#444" text-anchor="end" font-weight="normal" >15</text>
<line x1="50.8" y1="564" x2="50.8" y2="565.9" stroke="#333" stroke-width="0.5" />
<text x="52.4" y="566.3" font-size="4.6" fill="#2a2a2a" text-anchor="end" font-weight="normal" stroke="#2a2a2a" stroke-width="0.12" transform="rotate(-56 52.4 566.3)" dy="1.7">2000</text>
<line x1="91.2" y1="564" x2="91.2" y2="565.9" stroke="#333" stroke-width="0.5" />
<text x="92.8" y="566.3" font-size="4.6" fill="#2a2a2a" text-anchor="end" font-weight="normal" stroke="#2a2a2a" stroke-width="0.12" transform="rotate(-56 92.8 566.3)" dy="1.7">2010</text>
<line x1="131.6" y1="564" x2="131.6" y2="565.9" stroke="#333" stroke-width="0.5" />
<text x="133.2" y="566.3" font-size="4.6" fill="#2a2a2a" text-anchor="end" font-weight="normal" stroke="#2a2a2a" stroke-width="0.12" transform="rotate(-56 133.2 566.3)" dy="1.7">2020</text>
<line x1="172" y1="564" x2="172" y2="565.9" stroke="#333" stroke-width="0.5" />
<text x="173.6" y="566.3" font-size="4.6" fill="#2a2a2a" text-anchor="end" font-weight="normal" stroke="#2a2a2a" stroke-width="0.12" transform="rotate(-56 173.6 566.3)" dy="1.7">2030</text>
<line x1="212.4" y1="564" x2="212.4" y2="565.9" stroke="#333" stroke-width="0.5" />
<text x="214" y="566.3" font-size="4.6" fill="#2a2a2a" text-anchor="end" font-weight="normal" stroke="#2a2a2a" stroke-width="0.12" transform="rotate(-56 214 566.3)" dy="1.7">2040</text>
<line x1="252.8" y1="564" x2="252.8" y2="565.9" stroke="#333" stroke-width="0.5" />
<text x="254.4" y="566.3" font-size="4.6" fill="#2a2a2a" text-anchor="end" font-weight="normal" stroke="#2a2a2a" stroke-width="0.12" transform="rotate(-56 254.4 566.3)" dy="1.7">2050</text>
<text x="56.2" y="441.8" font-size="7.3" fill="#111" text-anchor="start" font-weight="bold" textLength="170.6" lengthAdjust="spacingAndGlyphs" >Estimated prevalence of CML, India (per 100 000)</text>
<text x="9.6" y="504.5" font-size="5.8" fill="#111" text-anchor="middle" font-weight="bold" textLength="87" lengthAdjust="spacingAndGlyphs" transform="rotate(-90 9.6 504.5)">Prevalence of CML (per 100,000)</text>
<text x="142.3" y="582.4" font-size="4.9" fill="#111" text-anchor="middle" font-weight="bold" >Year</text>
<clipPath id="cD"><rect x="286.6" y="445" width="235.4" height="118.8"/></clipPath>
<rect x="286.6" y="445" width="235.4" height="118.8" fill="#ebebeb" />
<g clip-path="url(#cD)">
<line x1="297.66" y1="445" x2="297.66" y2="563.8" stroke="#fbfbfb" stroke-width="0.6" />
<line x1="336.74" y1="445" x2="336.74" y2="563.8" stroke="#fbfbfb" stroke-width="0.6" />
<line x1="375.81" y1="445" x2="375.81" y2="563.8" stroke="#fbfbfb" stroke-width="0.6" />
<line x1="414.88" y1="445" x2="414.88" y2="563.8" stroke="#fbfbfb" stroke-width="0.6" />
<line x1="453.94" y1="445" x2="453.94" y2="563.8" stroke="#fbfbfb" stroke-width="0.6" />
<line x1="493.01" y1="445" x2="493.01" y2="563.8" stroke="#fbfbfb" stroke-width="0.6" />
<line x1="286.6" y1="543.41" x2="522" y2="543.41" stroke="#fbfbfb" stroke-width="0.6" />
<line x1="286.6" y1="507.43" x2="522" y2="507.43" stroke="#fbfbfb" stroke-width="0.6" />
<line x1="286.6" y1="471.45" x2="522" y2="471.45" stroke="#fbfbfb" stroke-width="0.6" />
<line x1="317.2" y1="445" x2="317.2" y2="563.8" stroke="#ffffff" stroke-width="0.9" />
<line x1="356.27" y1="445" x2="356.27" y2="563.8" stroke="#ffffff" stroke-width="0.9" />
<line x1="395.34" y1="445" x2="395.34" y2="563.8" stroke="#ffffff" stroke-width="0.9" />
<line x1="434.41" y1="445" x2="434.41" y2="563.8" stroke="#ffffff" stroke-width="0.9" />
<line x1="473.48" y1="445" x2="473.48" y2="563.8" stroke="#ffffff" stroke-width="0.9" />
<line x1="512.55" y1="445" x2="512.55" y2="563.8" stroke="#ffffff" stroke-width="0.9" />
<line x1="286.6" y1="561.4" x2="522" y2="561.4" stroke="#ffffff" stroke-width="0.9" />
<line x1="286.6" y1="525.42" x2="522" y2="525.42" stroke="#ffffff" stroke-width="0.9" />
<line x1="286.6" y1="489.44" x2="522" y2="489.44" stroke="#ffffff" stroke-width="0.9" />
<line x1="286.6" y1="453.46" x2="522" y2="453.46" stroke="#ffffff" stroke-width="0.9" />
<line x1="383.62" y1="445" x2="383.62" y2="563.8" stroke="#858585" stroke-width="0.65" stroke-dasharray="2.3 1.9"/>
<polyline points="297.66,557.8 301.57,557.73 305.48,557.57 309.39,557.33 313.29,557.04 317.2,556.72 321.11,556.33 325.01,555.8 328.92,555.14 332.83,554.39 336.74,553.54 340.64,552.61 344.55,551.62 348.46,550.59 352.36,549.53 356.27,548.45 360.18,547.29 364.08,546 367.99,544.59 371.9,543.07 375.81,541.45 379.71,539.76 383.62,538.01 387.53,536.18 391.43,534.23 395.34,532.17 399.25,530.02 403.15,527.78 407.06,525.47 410.97,523.08 414.88,520.64 418.78,518.14 422.69,515.6 426.6,513.02 430.5,510.41 434.41,507.79 438.32,505.1 442.22,502.29 446.13,499.39 450.04,496.4 453.94,493.36 457.85,490.28 461.76,487.18 465.67,484.07 469.57,480.98 473.48,477.93 477.39,474.89 481.29,471.84 485.2,468.78 489.11,465.71 493.01,462.63 496.92,459.55 500.83,456.45 504.74,453.34 508.64,450.22" fill="none" stroke="#3aa5db" stroke-width="1.9" stroke-linejoin="round" stroke-linecap="round" />
<circle cx="297.66" cy="557.8" r="1.6" fill="#3aa5db"/>
<circle cx="301.57" cy="557.73" r="1.6" fill="#3aa5db"/>
<circle cx="305.48" cy="557.57" r="1.6" fill="#3aa5db"/>
<circle cx="309.39" cy="557.33" r="1.6" fill="#3aa5db"/>
<circle cx="313.29" cy="557.04" r="1.6" fill="#3aa5db"/>
<circle cx="317.2" cy="556.72" r="1.6" fill="#3aa5db"/>
<circle cx="321.11" cy="556.33" r="1.6" fill="#3aa5db"/>
<circle cx="325.01" cy="555.8" r="1.6" fill="#3aa5db"/>
<circle cx="328.92" cy="555.14" r="1.6" fill="#3aa5db"/>
<circle cx="332.83" cy="554.39" r="1.6" fill="#3aa5db"/>
<circle cx="336.74" cy="553.54" r="1.6" fill="#3aa5db"/>
<circle cx="340.64" cy="552.61" r="1.6" fill="#3aa5db"/>
<circle cx="344.55" cy="551.62" r="1.6" fill="#3aa5db"/>
<circle cx="348.46" cy="550.59" r="1.6" fill="#3aa5db"/>
<circle cx="352.36" cy="549.53" r="1.6" fill="#3aa5db"/>
<circle cx="356.27" cy="548.45" r="1.6" fill="#3aa5db"/>
<circle cx="360.18" cy="547.29" r="1.6" fill="#3aa5db"/>
<circle cx="364.08" cy="546" r="1.6" fill="#3aa5db"/>
<circle cx="367.99" cy="544.59" r="1.6" fill="#3aa5db"/>
<circle cx="371.9" cy="543.07" r="1.6" fill="#3aa5db"/>
<circle cx="375.81" cy="541.45" r="1.6" fill="#3aa5db"/>
<circle cx="379.71" cy="539.76" r="1.6" fill="#3aa5db"/>
<circle cx="383.62" cy="538.01" r="1.6" fill="#3aa5db"/>
<circle cx="387.53" cy="536.18" r="1.6" fill="#3aa5db"/>
<circle cx="391.43" cy="534.23" r="1.6" fill="#3aa5db"/>
<circle cx="395.34" cy="532.17" r="1.6" fill="#3aa5db"/>
<circle cx="399.25" cy="530.02" r="1.6" fill="#3aa5db"/>
<circle cx="403.15" cy="527.78" r="1.6" fill="#3aa5db"/>
<circle cx="407.06" cy="525.47" r="1.6" fill="#3aa5db"/>
<circle cx="410.97" cy="523.08" r="1.6" fill="#3aa5db"/>
<circle cx="414.88" cy="520.64" r="1.6" fill="#3aa5db"/>
<circle cx="418.78" cy="518.14" r="1.6" fill="#3aa5db"/>
<circle cx="422.69" cy="515.6" r="1.6" fill="#3aa5db"/>
<circle cx="426.6" cy="513.02" r="1.6" fill="#3aa5db"/>
<circle cx="430.5" cy="510.41" r="1.6" fill="#3aa5db"/>
<circle cx="434.41" cy="507.79" r="1.6" fill="#3aa5db"/>
<circle cx="438.32" cy="505.1" r="1.6" fill="#3aa5db"/>
<circle cx="442.22" cy="502.29" r="1.6" fill="#3aa5db"/>
<circle cx="446.13" cy="499.39" r="1.6" fill="#3aa5db"/>
<circle cx="450.04" cy="496.4" r="1.6" fill="#3aa5db"/>
<circle cx="453.94" cy="493.36" r="1.6" fill="#3aa5db"/>
<circle cx="457.85" cy="490.28" r="1.6" fill="#3aa5db"/>
<circle cx="461.76" cy="487.18" r="1.6" fill="#3aa5db"/>
<circle cx="465.67" cy="484.07" r="1.6" fill="#3aa5db"/>
<circle cx="469.57" cy="480.98" r="1.6" fill="#3aa5db"/>
<circle cx="473.48" cy="477.93" r="1.6" fill="#3aa5db"/>
<circle cx="477.39" cy="474.89" r="1.6" fill="#3aa5db"/>
<circle cx="481.29" cy="471.84" r="1.6" fill="#3aa5db"/>
<circle cx="485.2" cy="468.78" r="1.6" fill="#3aa5db"/>
<circle cx="489.11" cy="465.71" r="1.6" fill="#3aa5db"/>
<circle cx="493.01" cy="462.63" r="1.6" fill="#3aa5db"/>
<circle cx="496.92" cy="459.55" r="1.6" fill="#3aa5db"/>
<circle cx="500.83" cy="456.45" r="1.6" fill="#3aa5db"/>
<circle cx="504.74" cy="453.34" r="1.6" fill="#3aa5db"/>
<circle cx="508.64" cy="450.22" r="1.6" fill="#3aa5db"/>
<rect x="305.24" y="553.07" width="23.91" height="7.3" rx="1.3" fill="#ffffff" stroke="#c79d78" stroke-width="0.7"/>
<text x="317.2" y="559.12" font-size="6.8" fill="#a8652e" text-anchor="middle" font-weight="normal" textLength="18.31" lengthAdjust="spacingAndGlyphs" stroke="#a8652e" stroke-width="0.1" >13000</text>
<rect x="344.31" y="544.8" width="23.91" height="7.3" rx="1.3" fill="#ffffff" stroke="#c79d78" stroke-width="0.7"/>
<text x="356.27" y="550.85" font-size="6.8" fill="#a8652e" text-anchor="middle" font-weight="normal" textLength="18.31" lengthAdjust="spacingAndGlyphs" stroke="#a8652e" stroke-width="0.1" >36000</text>
<rect x="371.66" y="534.36" width="23.91" height="7.3" rx="1.3" fill="#ffffff" stroke="#c79d78" stroke-width="0.7"/>
<text x="383.62" y="540.41" font-size="6.8" fill="#a8652e" text-anchor="middle" font-weight="normal" textLength="18.31" lengthAdjust="spacingAndGlyphs" stroke="#a8652e" stroke-width="0.1" >65000</text>
<rect x="420.62" y="504.14" width="27.58" height="7.3" rx="1.3" fill="#ffffff" stroke="#c79d78" stroke-width="0.7"/>
<text x="434.41" y="510.19" font-size="6.8" fill="#a8652e" text-anchor="middle" font-weight="normal" textLength="21.98" lengthAdjust="spacingAndGlyphs" stroke="#a8652e" stroke-width="0.1" >149000</text>
<rect x="459.69" y="474.28" width="27.58" height="7.3" rx="1.3" fill="#ffffff" stroke="#c79d78" stroke-width="0.7"/>
<text x="473.48" y="480.33" font-size="6.8" fill="#a8652e" text-anchor="middle" font-weight="normal" textLength="21.98" lengthAdjust="spacingAndGlyphs" stroke="#a8652e" stroke-width="0.1" >232000</text>
<rect x="494.85" y="446.57" width="27.58" height="7.3" rx="1.3" fill="#ffffff" stroke="#c79d78" stroke-width="0.7"/>
<text x="508.64" y="452.62" font-size="6.8" fill="#a8652e" text-anchor="middle" font-weight="normal" textLength="21.98" lengthAdjust="spacingAndGlyphs" stroke="#a8652e" stroke-width="0.1" >309000</text>
</g>
<line x1="284.7" y1="561.4" x2="286.6" y2="561.4" stroke="#333" stroke-width="0.5" />
<text x="283.9" y="563.15" font-size="4.9" fill="#444" text-anchor="end" font-weight="normal" >0</text>
<line x1="284.7" y1="525.42" x2="286.6" y2="525.42" stroke="#333" stroke-width="0.5" />
<text x="283.9" y="527.17" font-size="4.9" fill="#444" text-anchor="end" font-weight="normal" >100</text>
<line x1="284.7" y1="489.44" x2="286.6" y2="489.44" stroke="#333" stroke-width="0.5" />
<text x="283.9" y="491.19" font-size="4.9" fill="#444" text-anchor="end" font-weight="normal" >200</text>
<line x1="284.7" y1="453.46" x2="286.6" y2="453.46" stroke="#333" stroke-width="0.5" />
<text x="283.9" y="455.21" font-size="4.9" fill="#444" text-anchor="end" font-weight="normal" >300</text>
<line x1="317.2" y1="563.8" x2="317.2" y2="565.7" stroke="#333" stroke-width="0.5" />
<text x="318.8" y="566.1" font-size="4.6" fill="#2a2a2a" text-anchor="end" font-weight="normal" stroke="#2a2a2a" stroke-width="0.12" transform="rotate(-56 318.8 566.1)" dy="1.7">2000</text>
<line x1="356.27" y1="563.8" x2="356.27" y2="565.7" stroke="#333" stroke-width="0.5" />
<text x="357.87" y="566.1" font-size="4.6" fill="#2a2a2a" text-anchor="end" font-weight="normal" stroke="#2a2a2a" stroke-width="0.12" transform="rotate(-56 357.87 566.1)" dy="1.7">2010</text>
<line x1="395.34" y1="563.8" x2="395.34" y2="565.7" stroke="#333" stroke-width="0.5" />
<text x="396.94" y="566.1" font-size="4.6" fill="#2a2a2a" text-anchor="end" font-weight="normal" stroke="#2a2a2a" stroke-width="0.12" transform="rotate(-56 396.94 566.1)" dy="1.7">2020</text>
<line x1="434.41" y1="563.8" x2="434.41" y2="565.7" stroke="#333" stroke-width="0.5" />
<text x="436.01" y="566.1" font-size="4.6" fill="#2a2a2a" text-anchor="end" font-weight="normal" stroke="#2a2a2a" stroke-width="0.12" transform="rotate(-56 436.01 566.1)" dy="1.7">2030</text>
<line x1="473.48" y1="563.8" x2="473.48" y2="565.7" stroke="#333" stroke-width="0.5" />
<text x="475.08" y="566.1" font-size="4.6" fill="#2a2a2a" text-anchor="end" font-weight="normal" stroke="#2a2a2a" stroke-width="0.12" transform="rotate(-56 475.08 566.1)" dy="1.7">2040</text>
<line x1="512.55" y1="563.8" x2="512.55" y2="565.7" stroke="#333" stroke-width="0.5" />
<text x="514.15" y="566.1" font-size="4.6" fill="#2a2a2a" text-anchor="end" font-weight="normal" stroke="#2a2a2a" stroke-width="0.12" transform="rotate(-56 514.15 566.1)" dy="1.7">2050</text>
<text x="314.4" y="441.8" font-size="7.3" fill="#111" text-anchor="start" font-weight="bold" textLength="181.9" lengthAdjust="spacingAndGlyphs" >Estimated no. of patients with CML in India (<tspan font-weight="normal" font-size="7.6">✕</tspan> 1000)</text>
<text x="270.3" y="506" font-size="4.6" fill="#111" text-anchor="middle" font-weight="bold" textLength="73.4" lengthAdjust="spacingAndGlyphs" transform="rotate(-90 270.3 506)">Number of CML patients (x 1000)</text>
<text x="404.8" y="582.4" font-size="4.9" fill="#111" text-anchor="middle" font-weight="bold" >Year</text>
</svg>
</body></html>
